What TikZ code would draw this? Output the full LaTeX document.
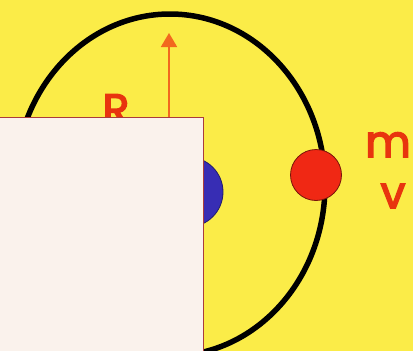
\documentclass[tikz,border=0pt]{standalone}
\usepackage{fontspec}
\newfontfamily\lblfont{Poppins}[FakeBold=3.5]
\usetikzlibrary{arrows.meta}
\definecolor{bgyellow}{RGB}{251,236,72}
\definecolor{labelred}{RGB}{232,52,14}
\definecolor{arroworange}{RGB}{242,104,30}
\definecolor{ballred}{RGB}{240,40,20}
\definecolor{blueball}{RGB}{55,45,180}
\definecolor{paper}{RGB}{250,242,236}
\definecolor{edge}{RGB}{170,60,60}
\tikzset{
  lbl/.style={text=labelred, font=\lblfont\fontsize{44}{44}\selectfont, inner sep=0pt, anchor=base},
  orbit/.style={draw=black, line width=5.5pt},
}
\begin{document}
\begin{tikzpicture}[x=1pt,y=-1pt]
\fill[bgyellow] (0,0) rectangle (413,351);
\useasboundingbox (0,0) rectangle (413,351);
% orbit
\draw[orbit] (170,185) ellipse [x radius=155, y radius=171];
% central body
\fill[blueball, draw=blueball!60!black, line width=0.8pt] (188,192) circle [radius=35];
% radius label and arrow
\node[lbl] (R) at (116,125) {R};
\coordinate (base) at (169,117);
\coordinate (tip) at (169,33);
\draw[arroworange, line width=1.8pt, -{Triangle[length=14pt,width=16pt]}] (base) -- (tip);
% paper covering
\fill[paper, draw=edge, line width=0.9pt] (-2,117) rectangle (203,353);
% moving mass
\node[circle, fill=ballred, draw=ballred!50!black, line width=0.8pt, minimum size=51pt, inner sep=0pt] (ball) at (316,175) {};
\node[lbl] (m) at (388,157) {m};
\node[lbl] (v) at (393,208) {v};
\end{tikzpicture}
\end{document}
